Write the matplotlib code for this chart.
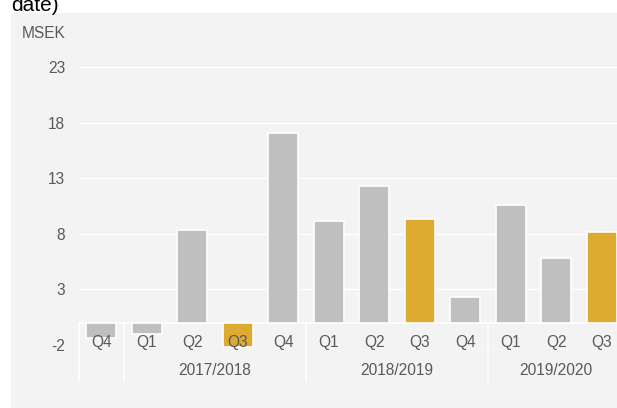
import matplotlib
matplotlib.use("Agg")
import matplotlib.pyplot as plt
from matplotlib.patches import Rectangle

quarters = ['Q4', 'Q1', 'Q2', 'Q3', 'Q4', 'Q1', 'Q2', 'Q3', 'Q4', 'Q1', 'Q2', 'Q3']
years = ['', '2017/2018', '2018/2019', '2019/2020']
year_sizes = [1, 4, 4, 3]
values = [-1.34, -0.98, 8.33, -2.2, 17.04, 9.18, 12.3, 9.32, 2.35, 10.57, 5.85, 8.12]
highlight = [False, False, False, True, False, False, False, True, False, False, False, True]
yticks = [-2, 3, 8, 13, 18, 23]

W, H = 617, 408
plt.rcParams['font.family'] = ['Liberation Sans', 'DejaVu Sans']
fig = plt.figure(figsize=(W / 100, H / 100), dpi=100)
fig.patch.set_facecolor('white')

panel_col = '#f2f3f2'
fig.add_artist(Rectangle((11 / W, 0), 1, (H - 13) / H, transform=fig.transFigure,
                         facecolor=panel_col, edgecolor='none', zorder=0))

x0, x1 = 78.5, 78.5 + 12 * 45.5
ytop, ybot = 67, 345
ax = fig.add_axes([x0 / W, (H - ybot) / H, (x1 - x0) / W, (ybot - ytop) / H])
ax.set_facecolor('none')
ax.set_xlim(-0.5, 11.5)
ax.set_ylim(-2, 23)
for s in ax.spines.values():
    s.set_visible(False)

fs = 11.2
txt = '#595959'
ax.set_yticks(yticks)
ax.set_yticklabels([str(v) for v in yticks])
ax.tick_params(axis='y', length=0, pad=9.5, labelsize=fs, labelcolor=txt)
ax.set_xticks([])
for v in yticks:
    ax.axhline(v, color='white', lw=1.0, zorder=1)
ax.axhline(0, color='white', lw=1.2, zorder=1)

gold = '#ddab30'
gray = '#bfbfbf'
xs = list(range(len(values)))
ax.bar(xs, values, width=0.65, color=[gold if h else gray for h in highlight],
       edgecolor='white', linewidth=1.2, zorder=2, clip_on=False)

px = 11.14
def yv(pix):
    return (321.8 - pix) / px

for i, q in enumerate(quarters):
    ax.text(i, yv(342), q, ha='center', va='center', fontsize=fs, color=txt, zorder=5, clip_on=False)

start = 0
bounds = [-0.5]
for name, n in zip(years, year_sizes):
    c = start + (n - 1) / 2
    if name:
        ax.text(c, yv(370), name, ha='center', va='center', fontsize=fs, color=txt, clip_on=False)
    start += n
    bounds.append(start - 0.5)
for b in bounds[:-1]:
    ax.plot([b, b], [0, yv(380)], color='white', lw=1.2, clip_on=False, zorder=1)

fig.text(22 / W, 1 - 34 / H, 'MSEK', ha='left', va='center', fontsize=fs, color=txt)
fig.text(11 / W, 1 - 11 / H, 'date)', ha='left', va='baseline', fontsize=15, color='black')

fig.savefig('out.png', dpi=100)
